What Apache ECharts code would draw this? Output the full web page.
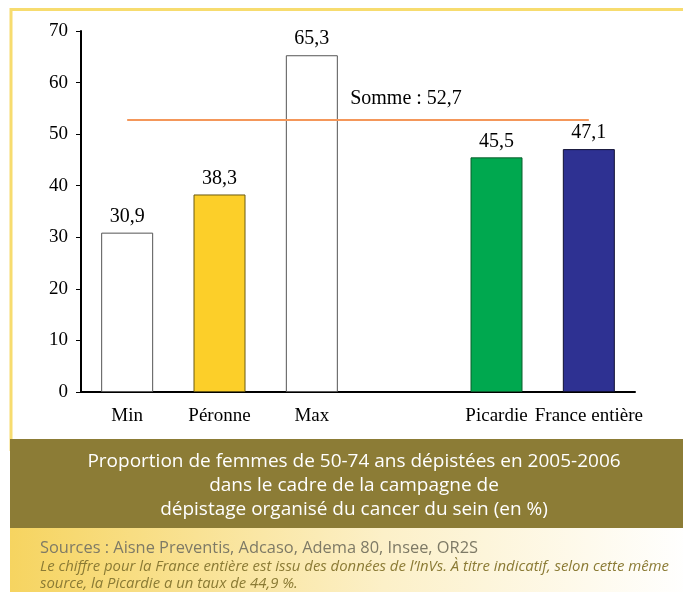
<!DOCTYPE html>
<html><head><meta charset="utf-8">
<script src="https://cdn.jsdelivr.net/npm/echarts@6/dist/echarts.min.js"></script>
<style>html,body{margin:0;padding:0;background:#fff;}#c{width:683px;height:592px;}</style>
</head><body><div id="c"></div>
<script>
const categories = ['Min', 'Péronne', 'Max', '', 'Picardie', 'France entière'];
const values = [30.9, 38.3, 65.3, null, 45.5, 47.1];
const barColors = ['#FFFFFF', '#FCCF29', '#FFFFFF', '#FFFFFF', '#00A84F', '#2E3192'];
const borderColors = ['#555555', '#6b5a10', '#555555', '#555555', '#0b5e2c', '#111133'];
const sommeValue = 52.7;
const sommeLabel = 'Somme : 52,7';
const yTicks = [0, 10, 20, 30, 40, 50, 60, 70];
const titleLines = ['Proportion de femmes de 50-74 ans dépistées en 2005-2006', 'dans le cadre de la campagne de', 'dépistage organisé du cancer du sein (en %)'];
const sourceLine = 'Sources : Aisne Preventis, Adcaso, Adema 80, Insee, OR2S';
const noteLines = ['Le chiffre pour la France entière est issu des données de l\u2019InVs. À titre indicatif, selon cette même', 'source, la Picardie a un taux de 44,9 %.'];

const serif = '"Liberation Serif", "DejaVu Serif", serif';
const sans = '"Open Sans", "Noto Sans", sans-serif';
const chart = echarts.init(document.getElementById('c'));
chart.setOption({
  animation: false,
  backgroundColor: '#fff',
  grid: { left: 81, right: 48, top: 31, bottom: 200, containLabel: false },
  xAxis: {
    type: 'category', data: categories,
    axisLine: { lineStyle: { color: '#000', width: 2 } },
    axisTick: { show: false },
    axisLabel: { color: '#000', fontFamily: serif, fontSize: 19, margin: 15, interval: 0 }
  },
  yAxis: {
    type: 'value', min: yTicks[0], max: yTicks[yTicks.length - 1], interval: 10,
    splitLine: { show: false },
    axisLine: { show: true, lineStyle: { color: '#000', width: 2 } },
    axisTick: { show: true, length: 5, lineStyle: { color: '#000', width: 1 } },
    axisLabel: { color: '#000', fontFamily: serif, fontSize: 19, margin: 13 }
  },
  series: [{
    type: 'bar',
    barWidth: 52,
    data: values.map((v, i) => ({ value: v, itemStyle: { color: barColors[i], borderColor: borderColors[i], borderWidth: 1 } })),
    label: { show: true, position: 'top', distance: 6, color: '#000', fontFamily: serif, fontSize: 20,
      formatter: p => String(p.value).replace('.', ',') },
    markLine: {
      silent: true, symbol: ['none', 'none'],
      lineStyle: { color: '#F4975A', width: 2, type: 'solid' },
      label: { show: true, position: 'middle', formatter: sommeLabel, color: '#000', fontFamily: serif, fontSize: 20, offset: [48, -6] },
      data: [[{ coord: [categories[0], sommeValue] }, { coord: [categories[5], sommeValue] }]]
    }
  }],
  graphic: [
    { type: 'rect', shape: { x: 11, y: 9.5, width: 720, height: 440 }, style: { fill: 'none', stroke: '#F7DC6F', lineWidth: 3 }, z: 1 },
    { type: 'rect', shape: { x: 10, y: 439, width: 680, height: 89 }, style: { fill: '#8C7C36' }, z: 2 },
    { type: 'rect', shape: { x: 10, y: 528, width: 680, height: 64 },
      style: { fill: new echarts.graphic.LinearGradient(0, 0, 1, 0, [{ offset: 0, color: '#F6D460' }, { offset: 0.55, color: '#FCF0C8' }, { offset: 1, color: '#FFFFFF' }]) }, z: 2 },
    ...titleLines.map((t, i) => ({ type: 'text', z: 3, style: { text: t, x: 354, y: 462 + i * 24, fill: '#fff', font: '19px ' + sans, textAlign: 'center', textVerticalAlign: 'middle' } })),
    { type: 'text', z: 3, style: { text: sourceLine, x: 40, y: 548, fill: '#7E7A66', font: '16.4px ' + sans, textAlign: 'left', textVerticalAlign: 'middle' } },
    ...noteLines.map((t, i) => ({ type: 'text', z: 3, style: { text: t, x: 40, y: 566.5 + i * 17.5, fill: '#8B7B35', font: 'italic 14.9px ' + sans, textAlign: 'left', textVerticalAlign: 'middle' } }))
  ]
});
</script></body></html>
